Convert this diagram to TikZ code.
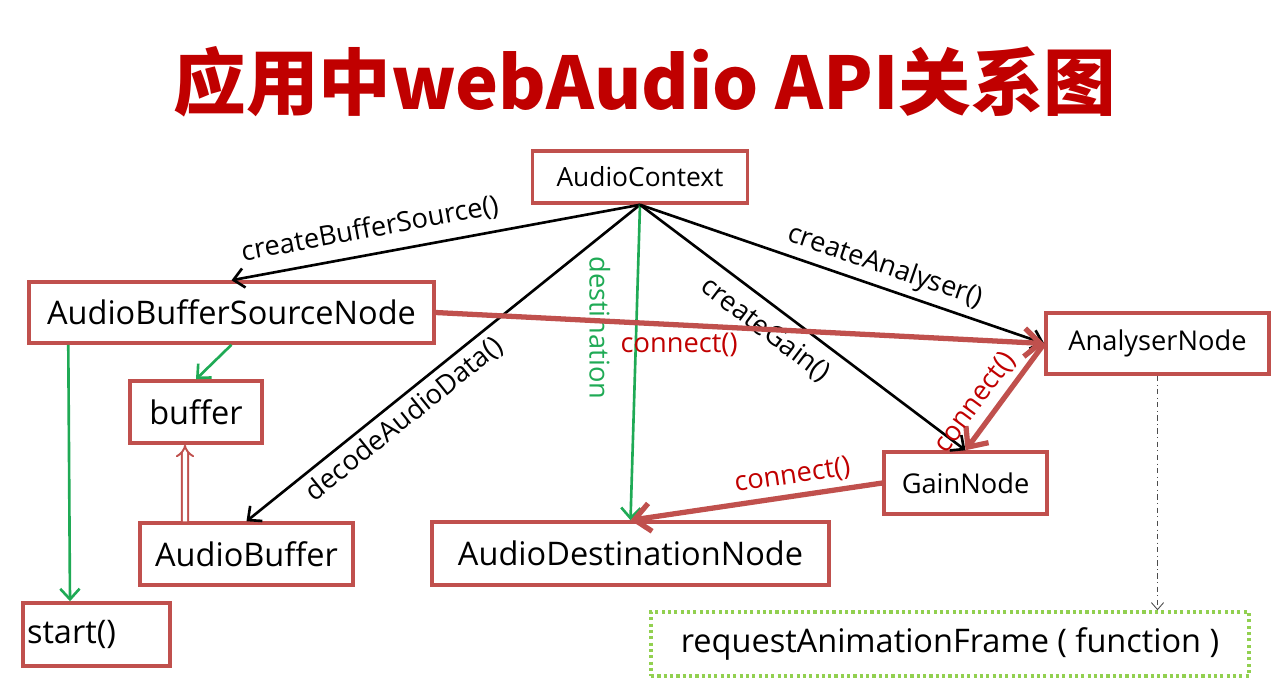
\documentclass[tikz,border=0pt]{standalone}
\usepackage{fontspec}
\setmainfont{Open Sans}
\newfontfamily\titlefont{Noto Sans CJK SC}
\usetikzlibrary{arrows.meta}
\definecolor{boxred}{HTML}{C0504D}
\definecolor{textred}{HTML}{C00000}
\definecolor{linkgreen}{HTML}{1FAA55}
\definecolor{dotgreen}{HTML}{92D050}
\begin{document}
\begin{tikzpicture}[x=0.02cm, y=-0.02cm,
	box/.style={draw=boxred, line width=2pt, inner sep=0pt, font=\fontsize{18.5}{22}\selectfont},
	smallbox/.style={box, font=\fontsize{15.5}{19}\selectfont},
	lbl/.style={font=\fontsize{15.5}{19}\selectfont},
	callarrow/.style={draw=black, line width=1.5pt, -{Straight Barb[length=6pt, width=11pt]}},
	linkarrow/.style={draw=boxred, line width=3pt, -{Straight Barb[length=9pt, width=16pt]}},
	greenarrow/.style={draw=linkgreen, line width=1.5pt, -{Straight Barb[length=6pt, width=11pt]}}]
	\useasboundingbox (0,0) rectangle (1287,681);
	
	%title
	\node[text=textred] (title) at (645,82) {\titlefont\bfseries\fontsize{41.3}{46}\selectfont 应用中webAudio API关系图};
	
	%boxes
	\node[smallbox, minimum width=4.3cm, minimum height=1.04cm, font=\fontsize{15}{19}\selectfont] (ctx) at (640,177) {AudioContext};
	\node[box, minimum width=8.1cm, minimum height=1.22cm] (absn) at (231.5,312.5) {AudioBufferSourceNode};
	\node[box, minimum width=2.64cm, minimum height=1.24cm] (buf) at (196,412) {buffer};
	\node[box, minimum width=4.26cm, minimum height=1.24cm] (abuf) at (246.5,554) {AudioBuffer};
	\node[box, minimum height=1.26cm, inner xsep=0.08cm, text width=2.78cm, align=left] (start) at (96.5,634.5) {start()};
	\node[box, minimum width=7.94cm, minimum height=1.26cm] (dest) at (630.5,553.5) {AudioDestinationNode};
	\node[smallbox, minimum width=3.26cm, minimum height=1.24cm] (gain) at (965.5,483) {GainNode};
	\node[smallbox, minimum width=4.46cm, minimum height=1.22cm] (ana) at (1157.5,343.5) {AnalyserNode};
	\node[box, draw=dotgreen, dash pattern=on 1.8pt off 1.8pt, minimum width=11.96cm, minimum height=1.28cm] (raf) at (950,644) {requestAnimationFrame ( function )};
	
	%calls from the context
	\draw[callarrow] (ctx.south) -- node[lbl, pos=0.65, above=3pt, sloped] {createBufferSource()} (absn.north);
	\draw[callarrow] (ctx.south) -- node[lbl, pos=0.63, below, sloped] {decodeAudioData()} (abuf.north);
	\draw[greenarrow] (ctx.south) -- node[lbl, text=linkgreen, pos=0.39, rotate=-90, anchor=north, inner ysep=14pt] {destination} (dest.north);
	\draw[callarrow] (ctx.south) -- node[lbl, pos=0.43, below=3pt, sloped] {createGain()} (gain.north);
	\draw[callarrow] (ctx.south) -- node[lbl, pos=0.59, above, sloped] {createAnalyser()} (ana.west);
	
	%connect()
	\draw[linkarrow] (absn.east) -- node[lbl, text=textred, pos=0.4, below] {connect()} (ana.west);
	\draw[linkarrow] (ana.west) -- node[lbl, text=textred, pos=0.67, above, sloped] {connect()} (gain.north);
	\draw[linkarrow] (gain.west) -- node[lbl, text=textred, pos=0.345, above, sloped] {connect()} (dest.north);
	
	%source node
	\draw[greenarrow] (absn.south) -- (buf.north);
	\draw[greenarrow] ([xshift=0.82cm]absn.south west) -- ([xshift=-0.53cm]start.north);
	\draw[boxred, line width=1.1pt, double=white, double distance=2.4pt, -{Implies}] ([xshift=-1.23cm]abuf.north) -- ([xshift=-0.22cm]buf.south);
	
	\draw[black!70, line width=0.5pt, dash dot, -{Straight Barb[length=4pt, width=7pt]}] (ana.south) -- (ana.south |- raf.north);
\end{tikzpicture}
\end{document}
